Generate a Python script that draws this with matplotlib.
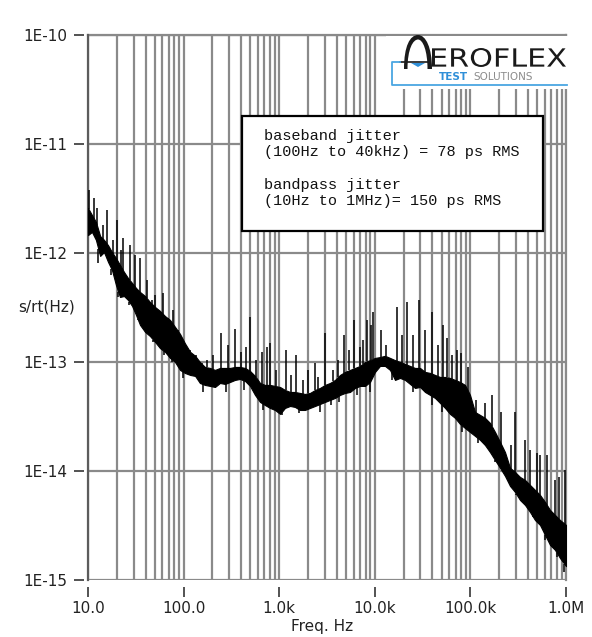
import numpy as np
import matplotlib.pyplot as plt
from matplotlib.patches import Rectangle, Polygon, PathPatch
from matplotlib.path import Path
from matplotlib.textpath import TextPath
from matplotlib.font_manager import FontProperties
from matplotlib.ticker import FixedLocator, LogLocator, NullLocator, NullFormatter

# dense part of the jitter spectrum: frequency (Hz), upper and lower edge of the noise band (s/rt(Hz))
band_freq = [10.0, 11.0, 12.1, 13.4, 14.7, 16.2, 17.8, 19.6, 21.6, 23.8, 26.2, 28.9, 31.8, 35.0,
             39.5, 44.5, 50.2, 56.7, 63.9, 72.1, 81.3, 91.7, 103, 117, 132, 148, 167, 189, 213,
             240, 271, 306, 345, 389, 439, 495, 558, 630, 710, 801, 904, 1020, 1150, 1300, 1460,
             1650, 1860, 2100, 2370, 2670, 3010, 3400, 3840, 4330, 4880, 5500, 6210, 7000, 7900,
             8910, 10050, 11330, 12790, 14420, 16270, 18350, 20700, 23350, 26330, 29710, 33510,
             37800, 42630, 48090, 54250, 61190, 69020, 77860, 87820, 99030, 111700, 126000,
             142100, 160300, 180900, 204000, 230100, 259600, 292800, 330300, 372600, 420200,
             474000, 534600, 603100, 680300, 767300, 865600, 1000000]
band_hi = [2.59e-12, 2.23e-12, 1.93e-12, 1.43e-12, 1.32e-12, 1.18e-12, 1.02e-12, 9.0e-13, 7.77e-13,
           6.70e-13, 5.90e-13, 5.31e-13, 4.78e-13, 4.39e-13, 4.03e-13, 3.55e-13, 3.20e-13, 2.94e-13,
           2.64e-13, 2.43e-13, 2.10e-13, 1.81e-13, 1.49e-13, 1.24e-13, 1.14e-13, 1.00e-13, 9.01e-14,
           8.82e-14, 8.46e-14, 8.82e-14, 8.82e-14, 8.82e-14, 9.01e-14, 9.01e-14, 8.82e-14, 8.28e-14,
           7.45e-14, 6.42e-14, 6.16e-14, 6.16e-14, 6.03e-14, 5.90e-14, 5.54e-14, 5.31e-14, 5.31e-14,
           5.20e-14, 5.09e-14, 5.20e-14, 5.54e-14, 5.78e-14, 6.16e-14, 6.42e-14, 6.85e-14, 7.61e-14,
           8.11e-14, 8.46e-14, 8.82e-14, 9.20e-14, 1.00e-13, 1.04e-13, 1.09e-13, 1.11e-13, 1.14e-13,
           1.09e-13, 1.04e-13, 1.00e-13, 9.60e-14, 9.20e-14, 8.82e-14, 8.82e-14, 8.11e-14, 7.94e-14,
           7.61e-14, 7.29e-14, 7.29e-14, 7.14e-14, 6.85e-14, 6.56e-14, 6.16e-14, 4.99e-14, 3.48e-14,
           3.27e-14, 3.07e-14, 2.76e-14, 2.28e-14, 1.85e-14, 1.49e-14, 1.07e-14, 9.80e-15, 8.82e-15,
           8.28e-15, 7.45e-15, 6.70e-15, 6.03e-15, 5.20e-15, 4.39e-15, 3.95e-15, 3.55e-15, 3.20e-15]
band_lo = [1.46e-12, 1.56e-12, 1.32e-12, 9.4e-13, 1.02e-12, 8.28e-13, 6.99e-13, 5.09e-13, 3.95e-13,
           4.03e-13, 3.71e-13, 3.27e-13, 2.70e-13, 2.19e-13, 1.89e-13, 1.73e-13, 1.53e-13, 1.34e-13,
           1.24e-13, 1.09e-13, 1.00e-13, 8.46e-14, 7.94e-14, 7.61e-14, 7.45e-14, 6.42e-14, 6.16e-14,
           6.03e-14, 5.90e-14, 6.42e-14, 6.29e-14, 6.56e-14, 6.85e-14, 6.99e-14, 6.70e-14, 6.03e-14,
           4.99e-14, 4.30e-14, 4.03e-14, 3.79e-14, 3.63e-14, 3.34e-14, 3.79e-14, 3.95e-14, 3.87e-14,
           3.63e-14, 3.63e-14, 3.79e-14, 3.95e-14, 4.12e-14, 4.30e-14, 4.49e-14, 4.68e-14, 4.99e-14,
           5.20e-14, 5.31e-14, 5.78e-14, 6.03e-14, 6.03e-14, 6.56e-14, 8.11e-14, 9.20e-14, 9.20e-14,
           8.46e-14, 6.85e-14, 7.14e-14, 6.85e-14, 6.29e-14, 5.78e-14, 5.90e-14, 5.31e-14, 4.99e-14,
           4.68e-14, 4.21e-14, 3.79e-14, 3.34e-14, 3.07e-14, 2.70e-14, 2.48e-14, 2.28e-14, 2.10e-14,
           1.93e-14, 1.73e-14, 1.49e-14, 1.26e-14, 1.07e-14, 9.01e-15, 7.29e-15, 6.42e-15, 5.42e-15,
           4.88e-15, 4.21e-15, 3.55e-15, 3.20e-15, 2.59e-15, 2.10e-15, 1.89e-15, 1.59e-15, 1.34e-15]

# spurs sticking out above the band: frequency (Hz) and peak (s/rt(Hz))
spur_freq = [10.2, 11.6, 12.4, 14.4, 15.8, 18.3, 20.1, 22.1, 23.2, 27.5, 31.0, 35.0, 41.4, 46.7,
             50.2, 60.9, 68.7, 77.5, 87.4, 96.2, 117, 135, 156, 176, 203, 246, 291, 345, 398, 450,
             495, 572, 661, 745, 801, 926, 1178, 1327, 1500, 1774, 2000, 2369, 2547, 3014, 3655,
             4121, 4764, 5370, 6056, 7000, 7530, 8287, 9126, 9575, 11610, 13100, 17070, 19270,
             21720, 25110, 28980, 33500, 39630, 45800, 51650, 56900, 64200, 72400, 79800, 94400,
             114600, 142000, 168000, 209000, 266000, 293000, 373000, 420000, 497000, 535000,
             632000, 767000, 845000, 977000]
spur_peak = [3.79e-12, 3.20e-12, 2.59e-12, 1.81e-12, 2.48e-12, 1.32e-12, 2.01e-12, 1.07e-12, 1.37e-12,
             1.18e-12, 9.60e-13, 9.01e-13, 5.66e-13, 3.71e-13, 4.12e-13, 4.30e-13, 2.43e-13, 3.00e-13,
             1.97e-13, 1.59e-13, 1.29e-13, 1.16e-13, 9.80e-14, 1.04e-13, 1.16e-13, 1.85e-13, 1.43e-13,
             2.01e-13, 1.24e-13, 1.37e-13, 2.59e-13, 1.04e-13, 1.24e-13, 1.37e-13, 1.49e-13, 8.46e-14,
             1.29e-13, 7.61e-14, 1.16e-13, 6.85e-14, 8.46e-14, 9.80e-14, 7.29e-14, 1.85e-13, 8.46e-14,
             1.04e-13, 1.77e-13, 1.29e-13, 2.43e-13, 1.37e-13, 1.59e-13, 2.43e-13, 2.19e-13, 2.88e-13,
             1.97e-13, 1.43e-13, 3.20e-13, 1.77e-13, 3.55e-13, 1.77e-13, 3.71e-13, 1.97e-13, 2.88e-13,
             1.43e-13, 2.19e-13, 1.66e-13, 1.16e-13, 1.29e-13, 1.21e-13, 9.01e-14, 4.49e-14, 4.21e-14,
             4.99e-14, 3.48e-14, 1.73e-14, 3.48e-14, 1.93e-14, 1.56e-14, 1.46e-14, 1.40e-14, 1.40e-14,
             8.28e-15, 8.82e-15, 1.02e-14]

# notches dropping below the band: frequency (Hz) and minimum (s/rt(Hz))
dip_freq = [12.8, 17.5, 20.7, 27.0, 33.0, 48.0, 62.0, 75.0, 98.0, 160, 280, 430, 680, 1070, 1600,
            2700, 3500, 4200, 6500, 9000, 15000, 16800, 25000, 40000, 50000, 82000, 120000,
            180000, 300000, 450000, 600000, 800000, 960000]
dip_low = [8.1e-13, 6.29e-13, 3.95e-13, 3.34e-13, 2.43e-13, 1.53e-13, 1.16e-13, 1.0e-13, 7.14e-14,
           5.31e-14, 5.31e-14, 5.54e-14, 3.63e-14, 3.27e-14, 3.40e-14, 3.48e-14, 4.03e-14, 4.30e-14,
           4.99e-14, 5.31e-14, 6.85e-14, 6.85e-14, 5.31e-14, 4.03e-14, 3.48e-14, 2.28e-14, 1.81e-14,
           1.21e-14, 6.03e-15, 4.21e-15, 2.33e-15, 1.63e-15, 1.18e-15]

x_ticks = [10, 100, 1e3, 1e4, 1e5, 1e6]
x_labels = ['10.0', '100.0', '1.0k', '10.0k', '100.0k', '1.0M']
y_ticks = [1e-15, 1e-14, 1e-13, 1e-12, 1e-11, 1e-10]
y_labels = ['1E-15', '1E-14', '1E-13', '1E-12', '1E-11', '1E-10']

note = ("baseband jitter\n(100Hz to 40kHz) = 78 ps RMS\n\n"
        "bandpass jitter\n(10Hz to 1MHz)= 150 ps RMS")

W, H = 592, 637
GRID = '#8a8a8a'
TXT = '#222222'


def fxy(x, y):
    # pixel position (origin top-left) -> figure fraction
    return x / W, 1 - y / H


def on_band(freq, edge):
    # band edge at the given frequencies, taken along the log-log trace
    return 10 ** np.interp(np.log10(freq), np.log10(band_freq), np.log10(edge))


fig = plt.figure(figsize=(W / 100, H / 100), dpi=100)
ax = fig.add_axes([88 / W, 1 - 580 / H, 478 / W, 545 / H])
ax.set_xscale('log')
ax.set_yscale('log')
ax.set_xlim(10, 1e6)
ax.set_ylim(1e-15, 1e-10)
ax.set_axisbelow(True)

ax.xaxis.set_major_locator(FixedLocator(x_ticks))
ax.set_xticklabels(x_labels)
ax.xaxis.set_minor_locator(LogLocator(base=10, subs=np.arange(2, 10), numticks=20))
ax.xaxis.set_minor_formatter(NullFormatter())
ax.yaxis.set_major_locator(FixedLocator(y_ticks))
ax.set_yticklabels(y_labels)
ax.yaxis.set_minor_locator(NullLocator())

for s in ax.spines.values():
    s.set_visible(False)
ax.spines['bottom'].set_position(('outward', 5))
ax.spines['left'].set_position(('outward', 3))

ax.grid(True, which='major', axis='both', color=GRID, lw=1.6)
ax.grid(True, which='minor', axis='x', color=GRID, lw=1.6)
ax.axhline(1e-10, color=GRID, lw=1.6, clip_on=False, zorder=0.6)
ax.axvline(1e6, color=GRID, lw=1.6, clip_on=False, zorder=0.6)
ax.axvline(10, color='#5c5c5c', lw=1.6, clip_on=False, zorder=0.6)

ax.tick_params(axis='both', which='major', length=7, width=1.3, color='#444444',
               labelsize=11, labelcolor=TXT)
ax.tick_params(axis='x', which='major', pad=3)
ax.tick_params(axis='y', which='major', pad=5)
ax.tick_params(axis='x', which='minor', length=0)

# noise band, spurs and notches
ax.fill_between(band_freq, band_lo, band_hi, color='black', lw=0.8, zorder=2)
ax.vlines(spur_freq, on_band(spur_freq, band_hi), spur_peak, color='black', lw=1.1, zorder=2)
ax.vlines(dip_freq, on_band(dip_freq, band_lo), dip_low, color='black', lw=1.1, zorder=2)

fig.text(*fxy(47, 307), 's/rt(Hz)', ha='center', va='center', fontsize=11, color=TXT)
fig.text(*fxy(322, 627), 'Freq. Hz', ha='center', va='center', fontsize=11, color=TXT)

# result box
x0, y0 = fxy(242, 231)
x1, y1 = fxy(543, 116)
fig.patches.append(Rectangle((x0, y0), x1 - x0, y1 - y0, transform=fig.transFigure,
                             facecolor='white', edgecolor='black', lw=1.6, zorder=3))
fig.text(*fxy(264, 129), note, ha='left', va='top', family='Liberation Mono',
         fontsize=11, linespacing=1.2, color='#111111', zorder=4)

# company logo
x0, y0 = fxy(386, 89)
x1, y1 = fxy(572, 36)
fig.patches.append(Rectangle((x0, y0), x1 - x0, y1 - y0, transform=fig.transFigure,
                             facecolor='white', edgecolor='none', zorder=3))

arch = [(404, 69), (404, 46), (410, 35), (418, 35), (426, 35), (432, 48), (432, 69),
        (427.5, 69), (427.5, 51), (423, 39.5), (418, 39.5), (413, 39.5), (407.5, 49), (407.5, 69),
        (404, 69)]
codes = [Path.MOVETO, Path.CURVE4, Path.CURVE4, Path.CURVE4, Path.CURVE4, Path.CURVE4, Path.CURVE4,
         Path.LINETO, Path.CURVE4, Path.CURVE4, Path.CURVE4, Path.CURVE4, Path.CURVE4, Path.CURVE4,
         Path.CLOSEPOLY]
fig.patches.append(PathPatch(Path([fxy(*p) for p in arch], codes), transform=fig.transFigure,
                             facecolor='#1a1a1a', edgecolor='none', zorder=4))
fig.lines.append(plt.Line2D(*zip(fxy(400, 62), fxy(428, 62)), transform=fig.transFigure,
                            color='#1a1a1a', lw=1.2, zorder=4))
fig.patches.append(Polygon([fxy(411, 63), fxy(425, 63), fxy(418, 67)], closed=True,
                           transform=fig.transFigure, facecolor='#2f8fd8', edgecolor='none', zorder=4))
bx, by = zip(fxy(400, 62), fxy(392, 62), fxy(392, 85), fxy(567, 85))
fig.lines.append(plt.Line2D(bx, by, transform=fig.transFigure, color='#4aa6e2', lw=1.3, zorder=4))

tp = TextPath((0, 0), 'EROFLEX', size=1, prop=FontProperties(family='DejaVu Sans'))
ext = tp.get_extents()
sx = 134 / ext.width
sy = 19 / ext.height
verts = [fxy(432 + (vx - ext.x0) * sx, 67 - (vy - ext.y0) * sy) for vx, vy in tp.vertices]
fig.patches.append(PathPatch(Path(verts, tp.codes), transform=fig.transFigure,
                             facecolor='#1a1a1a', edgecolor='none', zorder=4))
fig.text(*fxy(439, 77), 'TEST', ha='left', va='center', fontsize=7.5, fontweight='bold',
         color='#2f8fd8', zorder=4)
fig.text(*fxy(473, 77), 'SOLUTIONS', ha='left', va='center', fontsize=7.5,
         color='#8c8c8c', zorder=4)

fig.savefig('out.png', dpi=100)
